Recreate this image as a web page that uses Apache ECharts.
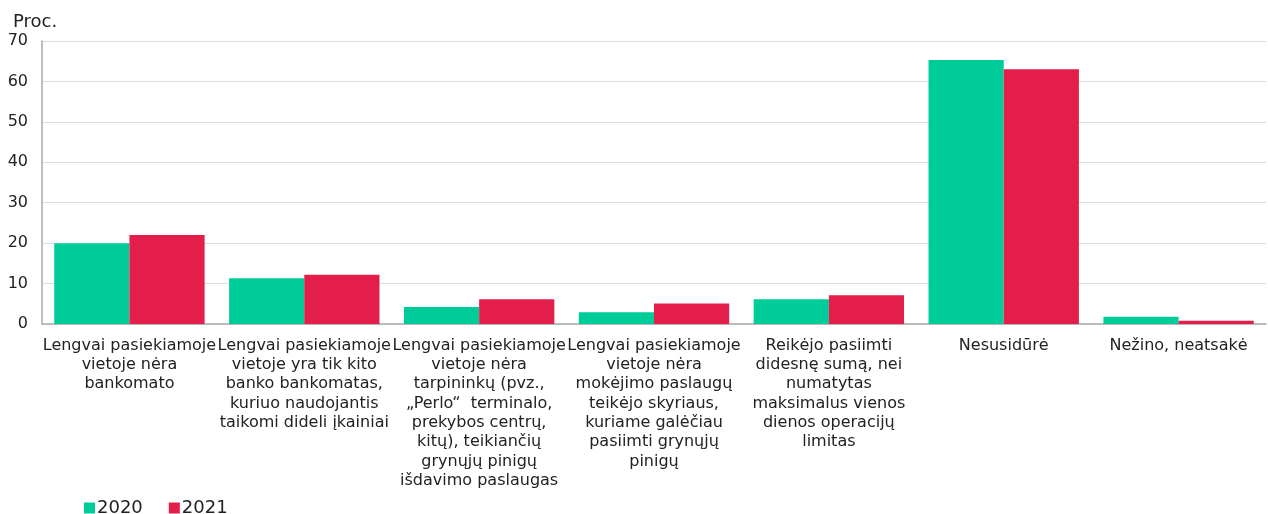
<!DOCTYPE html>
<html><head><meta charset="utf-8">
<script src="https://cdn.jsdelivr.net/npm/echarts@6/dist/echarts.min.js"></script>
<style>html,body{margin:0;padding:0;background:#fff}#c{width:1268px;height:514px}</style>
</head><body><div id="c"></div>
<script>
var categories = [
  "Lengvai pasiekiamoje\nvietoje nėra\nbankomato",
  "Lengvai pasiekiamoje\nvietoje yra tik kito\nbanko bankomatas,\nkuriuo naudojantis\ntaikomi dideli įkainiai",
  "Lengvai pasiekiamoje\nvietoje nėra\ntarpininkų (pvz.,\n„Perlo“  terminalo,\nprekybos centrų,\nkitų), teikiančių\ngrynųjų pinigų\nišdavimo paslaugas",
  "Lengvai pasiekiamoje\nvietoje nėra\nmokėjimo paslaugų\nteikėjo skyriaus,\nkuriame galėčiau\npasiimti grynųjų\npinigų",
  "Reikėjo pasiimti\ndidesnę sumą, nei\nnumatytas\nmaksimalus vienos\ndienos operacijų\nlimitas",
  "Nesusidūrė",
  "Nežino, neatsakė"
];
var series2020 = [20.0, 11.3, 4.2, 2.9, 6.1, 65.3, 1.8];
var series2021 = [22.0, 12.2, 6.1, 5.1, 7.1, 63.0, 0.8];
var yTicks = [0, 10, 20, 30, 40, 50, 60, 70];

var font = "'DejaVu Sans', Verdana, sans-serif";
var chart = echarts.init(document.getElementById('c'), null, {renderer: 'canvas'});
chart.setOption({
  animation: false,
  textStyle: {fontFamily: font},
  title: {text: 'Proc.', left: 8, top: 8, textStyle: {fontSize: 18, fontWeight: 'normal', color: '#222', fontFamily: font}},
  legend: {
    data: ['2020', '2021'], left: 79, top: 494, itemWidth: 11, itemHeight: 11, itemGap: 26,
    icon: 'rect', textStyle: {fontSize: 18, color: '#222', fontFamily: font, padding: [0, 0, 0, -3]}
  },
  grid: {left: 42, right: 2, top: 41, bottom: 190, containLabel: false},
  xAxis: {
    type: 'category', data: categories,
    axisLine: {lineStyle: {color: '#aaa', width: 1.5}},
    axisTick: {show: false},
    axisLabel: {interval: 0, fontSize: 16, color: '#222', lineHeight: 19.3, margin: 12, fontFamily: font}
  },
  yAxis: {
    type: 'value', min: 0, max: 70, interval: 10,
    axisLine: {show: true, lineStyle: {color: '#aaa', width: 1.5}},
    axisTick: {show: false},
    splitLine: {lineStyle: {color: '#ddd', width: 1}},
    axisLabel: {fontSize: 16, color: '#222', margin: 14, fontFamily: font,
      formatter: function (v) { return yTicks.indexOf(v) >= 0 ? String(v) : ''; }}
  },
  series: [
    {name: '2020', type: 'bar', data: series2020, barGap: '0%', barCategoryGap: '14%', itemStyle: {color: '#00cc99'}},
    {name: '2021', type: 'bar', data: series2021, barGap: '0%', barCategoryGap: '14%', itemStyle: {color: '#e31e4a'}}
  ]
});
</script></body></html>
